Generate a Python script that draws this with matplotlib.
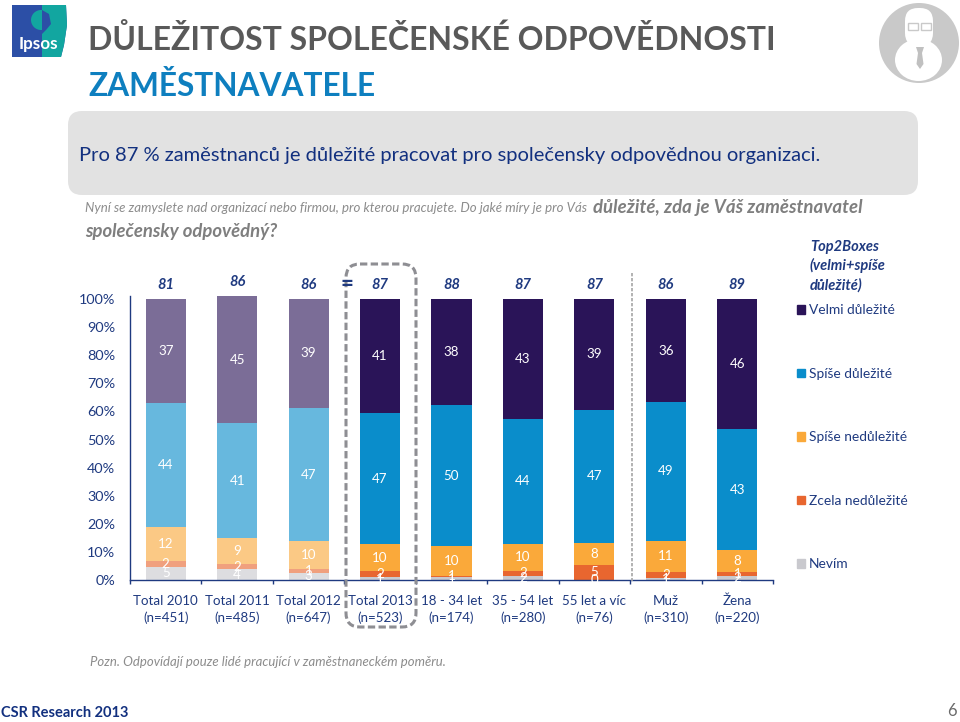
"""
Důležitost společenské odpovědnosti zaměstnavatele - sloupcový graf
"""
import matplotlib
matplotlib.use("Agg")
import matplotlib.pyplot as plt
from matplotlib.patches import Circle, Ellipse, FancyBboxPatch, Patch, Polygon, Rectangle

plt.rcParams['font.family'] = ['Lato', 'DejaVu Sans']

kategorie = ["Total 2010\n(n=451)", "Total 2011\n(n=485)", "Total 2012\n(n=647)", "Total 2013\n(n=523)",
             "18 - 34 let\n(n=174)", "35 - 54 let\n(n=280)", "55 let a víc\n(n=76)", "Muž\n(n=310)", "Žena\n(n=220)"]
top2 = [81, 86, 86, 87, 88, 87, 87, 86, 89]

# hodnoty (popisky jsou zaokrouhlené)
nevim = [4.9, 3.9, 2.7, 1.2, 1.1, 1.5, 0.2, 0.8, 1.5]
zcela = [2.0, 2.0, 1.3, 2.0, 0.6, 1.9, 5.2, 2.2, 1.4]
spise_ne = [12.1, 9.0, 9.8, 9.6, 10.4, 9.6, 7.8, 11.0, 7.7]
spise = [44.0, 41.0, 47.4, 46.6, 50.1, 44.4, 47.4, 49.4, 43.0]
velmi = [37.0, 45.0, 38.8, 40.6, 37.8, 42.6, 39.4, 36.4, 46.3]

serie = [("Nevím", nevim, "#C9C9CE"), ("Zcela nedůležité", zcela, "#E8662F"),
         ("Spíše nedůležité", spise_ne, "#FAA93A"), ("Spíše důležité", spise, "#0A8DCB"),
         ("Velmi důležité", velmi, "#2A1458")]

NAVY = "#1F3A80"
W, H = 960, 722
fig = plt.figure(figsize=(W / 100, H / 100), dpi=100)

# pozadí v pixelech
bg = fig.add_axes([0, 0, 1, 1])
bg.set_xlim(0, W)
bg.set_ylim(H, 0)
bg.axis("off")

# graf
ax = fig.add_axes([130 / W, 1 - 580.3 / H, (773 - 130) / W, (580.3 - 296) / H])
ax.set_xlim(0, 9)
ax.set_ylim(0, 101)
x = [i + 0.5 for i in range(9)]
dolni = [0] * 9
for nazev, hodnoty, barva in serie:
    for i in range(9):
        ax.bar(x[i], hodnoty[i], 0.56, bottom=dolni[i], color=barva, alpha=0.62 if i < 3 else 1, linewidth=0)
        ax.text(x[i], dolni[i] + hodnoty[i] / 2, str(round(hodnoty[i])), color="white", fontsize=9.6,
                ha="center", va="center")
    dolni = [d + h for d, h in zip(dolni, hodnoty)]

for i in range(9):
    ax.annotate(str(top2[i]), (x[i], dolni[i]), xytext=(0, 10), textcoords="offset points", color=NAVY,
                fontsize=10.5, fontweight="bold", fontstyle="italic", ha="center", va="center")

ax.set_xticks(range(10))
ax.set_xticklabels([])
ax.set_xticks(x, kategorie, minor=True, color=NAVY, fontsize=9.6, linespacing=1.4)
ax.tick_params(axis="x", which="major", length=3, color=NAVY, width=1)
ax.tick_params(axis="x", which="minor", length=0, pad=30)
for popisek in ax.get_xticklabels(minor=True):
    popisek.set_verticalalignment("baseline")
ax.set_yticks(range(0, 101, 10))
ax.set_yticklabels([f"{v}%" for v in range(0, 101, 10)], color=NAVY, fontsize=10.4)
ax.tick_params(axis="y", length=0, pad=10.8)
for s in ["top", "right"]:
    ax.spines[s].set_visible(False)
for s in ["left", "bottom"]:
    ax.spines[s].set_color(NAVY)
    ax.spines[s].set_linewidth(1)

# legenda
uchyty = [Patch(color=b, label=n) for n, _, b in reversed(serie)]
leg = fig.legend(handles=uchyty, loc="upper left", bbox_to_anchor=(791.5 / W, 1 - 299 / H), frameon=False,
                 fontsize=9.9, handlelength=0.58, handleheight=0.58, handletextpad=0.3, labelspacing=3.74,
                 labelcolor=NAVY, borderpad=0.4, borderaxespad=0)

# nadpisy
bg.text(88, 40, "DŮLEŽITOST SPOLEČENSKÉ ODPOVĚDNOSTI", color="#595959", fontsize=23.03, fontweight="bold", va="center")
bg.text(88, 86, "ZAMĚSTNAVATELE", color="#0E7FBF", fontsize=22.75, fontweight="bold", va="center")
bg.add_patch(FancyBboxPatch((80, 123), 826, 60, boxstyle="round,pad=12,rounding_size=14",
                            facecolor="#E2E2E2", edgecolor="#E2E2E2", linewidth=0))
bg.text(79, 156, "Pro 87 % zaměstnanců je důležité pracovat pro společensky odpovědnou organizaci.",
        color="#12307F", fontsize=14.47, va="center")
bg.text(85, 208, "Nyní se zamyslete nad organizací nebo firmou, pro kterou pracujete. Do jaké míry je pro Vás",
        color="#8C8C8C", fontsize=9.53, fontstyle="italic", va="center")
bg.text(593, 208, "důležité, zda je Váš zaměstnavatel", color="#7F7F7F", fontsize=13.4, fontstyle="italic",
        fontweight="bold", va="center")
bg.text(85, 232, "společensky odpovědný?", color="#7F7F7F", fontsize=13.3, fontstyle="italic", fontweight="bold",
        va="center")
bg.text(810, 266, "Top2Boxes\n(velmi+spíše\ndůležité)", color=NAVY, fontsize=10.5, fontstyle="italic",
        fontweight="bold", va="center", linespacing=1.4)

# zvýraznění Total 2013 a oddělovač
over = fig.add_axes([0, 0, 1, 1], zorder=5)
over.set_xlim(0, W)
over.set_ylim(H, 0)
over.axis("off")
over.add_patch(FancyBboxPatch((360, 278), 42, 335, boxstyle="round,pad=14,rounding_size=14", fill=False,
                              edgecolor="#8E8E93", linewidth=2.2, linestyle=(0, (2.4, 1.1))))
over.plot([631.7, 631.7], [273, 581], color="#A6A6A6", linewidth=1.2, linestyle=(0, (2, 1)))
over.text(347, 285, "=", color=NAVY, fontsize=16, fontweight="bold", ha="center", va="center")

# patička
bg.text(90, 662, "Pozn. Odpovídají pouze lidé pracující v zaměstnaneckém poměru.", color="#8C8C8C", fontsize=9.45,
        fontstyle="italic", va="center")
bg.text(1, 713, "CSR Research 2013", color="#12307F", fontsize=10.5, fontweight="bold", va="center")
bg.text(952, 711, "6", color="#6B6B6B", fontsize=12, ha="center", va="center")

# logo Ipsos
bg.add_patch(Polygon([(12, 5), (66, 5), (67, 25), (64, 45), (61, 57), (12, 57)], facecolor="#2C4FA6", linewidth=0))
bg.add_patch(Polygon([(42, 5), (66, 5), (67, 25), (64, 45), (61, 57), (42, 57)], facecolor="#12A6A0", linewidth=0))
bg.add_patch(Ellipse((41, 20), 20, 20, facecolor="#12A6A0", linewidth=0))
bg.add_patch(Polygon([(42, 10), (49, 14), (51, 24), (46, 30), (42, 34)], facecolor="#2C4FA6", linewidth=0))
bg.text(38, 44, "Ipsos", color="white", fontsize=12.3, fontweight="bold", ha="center", va="center")

# postavička
bg.add_patch(Circle((919, 43), 40, facecolor="#C9C9C9", linewidth=0))
bg.add_patch(Ellipse((918.5, 60), 47, 42, facecolor="white", linewidth=0))
bg.add_patch(FancyBboxPatch((905, 8), 28, 38, boxstyle="round,pad=0,rounding_size=13", facecolor="white", linewidth=0))
bg.add_patch(Rectangle((907.5, 23), 10, 7, fill=False, edgecolor="#C9C9C9", linewidth=1))
bg.add_patch(Rectangle((921, 23), 10, 7, fill=False, edgecolor="#C9C9C9", linewidth=1))
bg.add_patch(Polygon([(916, 47), (924, 47), (922, 53), (923.5, 64), (920, 69), (916.5, 64), (918, 53)],
                     facecolor="#C0C0C0", linewidth=0))

fig.savefig("out.png", dpi=100)
